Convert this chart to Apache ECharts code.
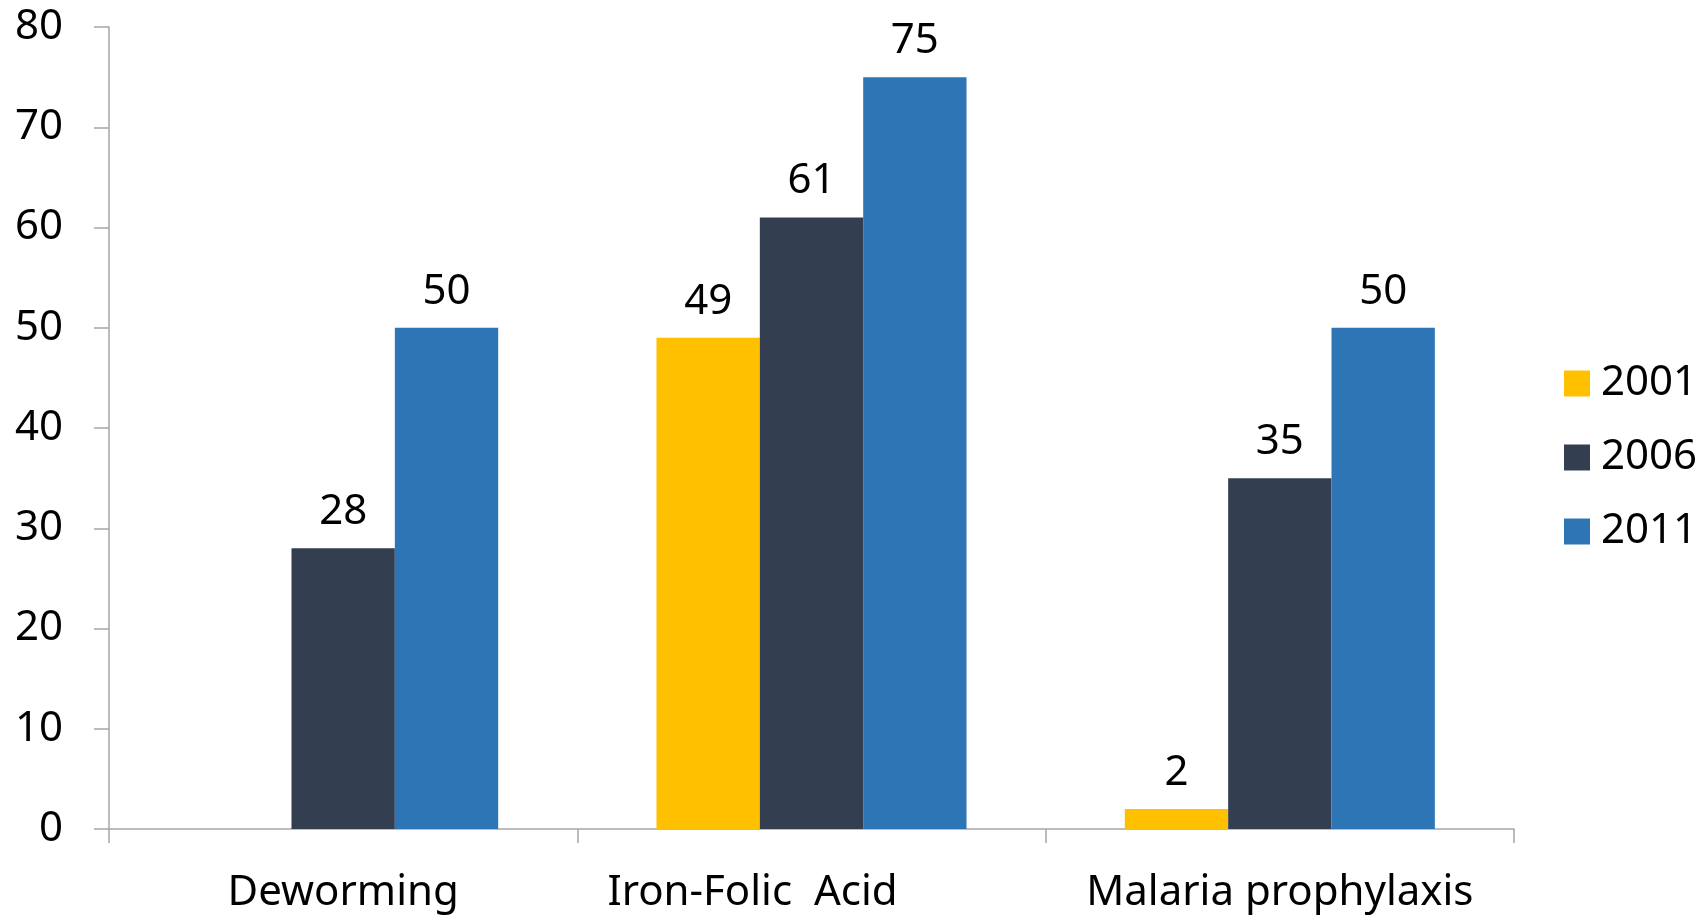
<!DOCTYPE html>
<html><head><meta charset="utf-8">
<script src="https://cdn.jsdelivr.net/npm/echarts@6/dist/echarts.min.js"></script>
<style>html,body{margin:0;padding:0;background:#fff}#c{width:1706px;height:915px}</style>
</head><body><div id="c"></div>
<script>
const categories = ['Deworming', 'Iron-Folic  Acid', 'Malaria prophylaxis'];
const seriesNames = ['2001', '2006', '2011'];
const v2001 = [null, 49, 2];
const v2006 = [28, 61, 35];
const v2011 = [50, 75, 50];
const yTicks = [0, 10, 20, 30, 40, 50, 60, 70, 80];
const colors = ['#FFC000', '#333F50', '#2E75B6'];
const FONT = 'Noto Sans';
const FS = 42;
const chart = echarts.init(document.getElementById('c'), null, {renderer: 'canvas'});
const mk = (name, data, color) => ({
  name, type: 'bar', data, barGap: '0%', barCategoryGap: '33.8%',
  itemStyle: {color},
  label: {show: true, position: 'top', distance: 15, color: '#000', fontFamily: FONT, fontSize: FS}
});
const catData = categories.map((c, i) => i === 1 ? {value: c, textStyle: {padding: [0, 118, 0, 0]}} : c);
chart.setOption({
  animation: false,
  textStyle: {fontFamily: FONT},
  grid: {left: 109, right: 192, top: 27, bottom: 86, containLabel: false},
  legend: {
    orient: 'vertical', left: 1559, top: 'middle', icon: 'rect', itemWidth: 26, itemHeight: 26,
    itemGap: 32, padding: [15, 5, 5, 5], data: seriesNames,
    textStyle: {fontFamily: FONT, fontSize: FS, color: '#000', padding: [0, 0, 0, 6]}
  },
  xAxis: {
    type: 'category', data: catData,
    axisLine: {show: true, lineStyle: {color: '#A6A6A6', width: 1.5}},
    axisTick: {show: true, length: 14, alignWithLabel: false, lineStyle: {color: '#A6A6A6', width: 1.5}},
    axisLabel: {fontFamily: FONT, fontSize: FS, color: '#000', margin: 43, interval: 0}
  },
  yAxis: {
    type: 'value', min: yTicks[0], max: yTicks[yTicks.length - 1], interval: 10,
    splitLine: {show: false},
    axisLine: {show: true, lineStyle: {color: '#A6A6A6', width: 1.5}},
    axisTick: {show: true, inside: false, length: 15, lineStyle: {color: '#A6A6A6', width: 1.5}},
    axisLabel: {fontFamily: FONT, fontSize: FS, color: '#000', margin: 46}
  },
  series: [mk(seriesNames[0], v2001, colors[0]), mk(seriesNames[1], v2006, colors[1]), mk(seriesNames[2], v2011, colors[2])]
});
</script></body></html>
